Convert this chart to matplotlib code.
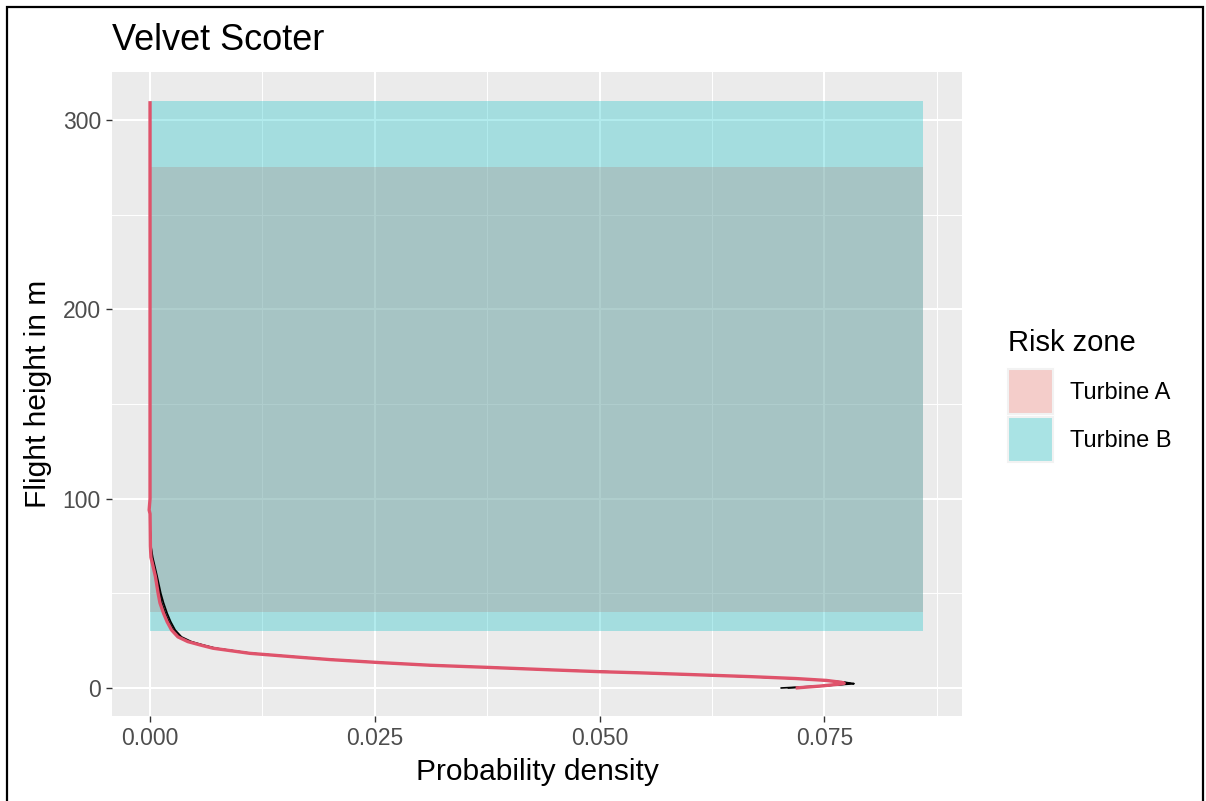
import matplotlib
matplotlib.use("Agg")
import matplotlib.pyplot as plt
from matplotlib.patches import Rectangle, Patch
from matplotlib.ticker import MultipleLocator

plt.rcParams['font.family'] = ['Liberation Sans', 'DejaVu Sans']

title = "Velvet Scoter"
legend_title = "Risk zone"
zone_names = ["Turbine A", "Turbine B"]
zone_bottom = [40, 30]
zone_top = [275, 310]
zone_xmax = 0.086
zone_colors = ["#F8766D", "#00BFC4"]

# Flight height profile (mean estimate)
mean_height = [0, 1, 2, 2.5, 3, 4, 5, 6, 7, 8, 8.6, 9.5, 10.9, 12, 13.4, 15, 16.2,
               18.3, 21, 22.7, 24.5, 27, 30.6, 35, 39.5, 45, 50, 58.8, 65, 69, 75,
               85, 92, 94, 100, 150, 200, 250, 310]
mean_density = [0.0718, 0.0745, 0.0766, 0.0772, 0.0769, 0.0752, 0.0718, 0.0668, 0.0607,
                0.0545, 0.0501, 0.0450, 0.0375, 0.0312, 0.0256, 0.0200, 0.0167,
                0.0111, 0.0070, 0.0056, 0.0042, 0.0031, 0.0024, 0.0019, 0.0015,
                0.0011, 0.0009, 0.0006, 0.0003, 0.0001, 0.00004,
                0.00002, 0.0, -0.0001, 0.0, 0.0, 0.0, 0.0, 0.0]

# Bootstrap replicate profiles
boot1_height = [0, 1, 2, 2.3, 3, 4, 5, 6, 7, 8, 9.5, 10.9, 12, 13.4, 15, 16.2, 18.3,
                21, 22.7, 24.5, 27, 30.6, 35, 39.5, 45, 50, 58.8, 65, 69, 75, 85]
boot1_density = [0.0702, 0.0742, 0.0776, 0.0783, 0.0773, 0.0752, 0.0716, 0.0664, 0.0604,
                 0.0544, 0.0450, 0.0375, 0.0311, 0.0256, 0.0201, 0.0168, 0.0113,
                 0.0073, 0.0059, 0.0046, 0.0035, 0.0028, 0.0023, 0.0019, 0.0015,
                 0.0012, 0.0008, 0.0005, 0.0003, 0.0001, 0.0]
boot2_height = [0, 1, 2, 2.4, 3, 4, 5, 6, 7, 8, 9.5, 10.9, 12, 13.4, 15, 16.2, 18.3,
                21, 22.7, 24.5, 27, 30.6, 35, 39.5, 45, 50, 58.8, 65, 69, 75, 85]
boot2_density = [0.0710, 0.0748, 0.0772, 0.0779, 0.0771, 0.0751, 0.0717, 0.0666, 0.0606,
                 0.0545, 0.0451, 0.0376, 0.0312, 0.0257, 0.0201, 0.0168, 0.0112,
                 0.0072, 0.0058, 0.0044, 0.0033, 0.0026, 0.0021, 0.0017, 0.0013,
                 0.0011, 0.0007, 0.0004, 0.0002, 0.0001, 0.0]

x_ticks = [0.0, 0.025, 0.05, 0.075]
x_tick_labels = ["0.000", "0.025", "0.050", "0.075"]
y_ticks = [0, 100, 200, 300]


def blend(hex_color, alpha, bg=(242, 242, 242)):
    """Colour of a translucent fill over the legend key background."""
    r, g, b = (int(hex_color[i:i + 2], 16) for i in (1, 3, 5))
    mix = [alpha * c + (1 - alpha) * k for c, k in zip((r, g, b), bg)]
    return tuple(v / 255 for v in mix)


W, H = 1206, 801
fig = plt.figure(figsize=(W / 100, H / 100), dpi=100)
ax = fig.add_axes([112 / W, 1 - 716 / H, (962 - 112) / W, (716 - 72) / H])
ax.set_facecolor("#EBEBEB")
for s in ax.spines.values():
    s.set_visible(False)

ax.set_xlim(-0.00423, 0.0903)
ax.set_ylim(-14.8, 325.4)
ax.set_xticks(x_ticks)
ax.set_xticklabels(x_tick_labels)
ax.set_yticks(y_ticks)
ax.xaxis.set_minor_locator(MultipleLocator(0.0125))
ax.yaxis.set_minor_locator(MultipleLocator(50))
ax.grid(which="major", color="white", linewidth=1.5, zorder=0)
ax.grid(which="minor", color="white", linewidth=0.7, zorder=0)
ax.set_axisbelow(True)
ax.tick_params(which="major", length=4, width=1.0, color="#333333",
               labelsize=16.5, labelcolor="#4D4D4D", pad=4)
ax.tick_params(which="minor", length=0)

for name, y0, y1, c in zip(zone_names, zone_bottom, zone_top, zone_colors):
    ax.add_patch(Rectangle((0, y0), zone_xmax, y1 - y0, facecolor=c, alpha=0.3,
                           edgecolor="none", zorder=1))

ax.plot(boot1_density, boot1_height, color="black", linewidth=1.2, zorder=2)
ax.plot(boot2_density, boot2_height, color="black", linewidth=1.2, zorder=2)
ax.plot(mean_density, mean_height, color="#DF536B", linewidth=2.4, zorder=3,
        solid_capstyle="butt")

ax.set_xlabel("Probability density", fontsize=21.5, labelpad=6)
ax.set_ylabel("Flight height in m", fontsize=21.5, labelpad=8)
fig.text(112 / W, 1 - 50 / H, title, fontsize=26, ha="left", va="baseline")

# Legend: title as separate text, keys below it
fig.text(1008 / W, 1 - 351 / H, legend_title, fontsize=21, ha="left", va="baseline")
handles = [Patch(facecolor=blend(c, 0.3), edgecolor="#F2F2F2", linewidth=1.5)
           for c in zone_colors]
leg = fig.legend(handles, zone_names, loc="upper left",
                 bbox_to_anchor=(1008 / W, 1 - 369 / H), frameon=False,
                 fontsize=17, handlelength=1.9, handleheight=2.55,
                 handletextpad=0.72, labelspacing=0.13, borderaxespad=0,
                 borderpad=0)

fig.patches.append(Rectangle((7 / W, -0.01), (1203 - 7) / W, 1 - 7 / H + 0.01,
                             transform=fig.transFigure, fill=False,
                             edgecolor="black", linewidth=1.6))

fig.savefig("out.png", dpi=100)
